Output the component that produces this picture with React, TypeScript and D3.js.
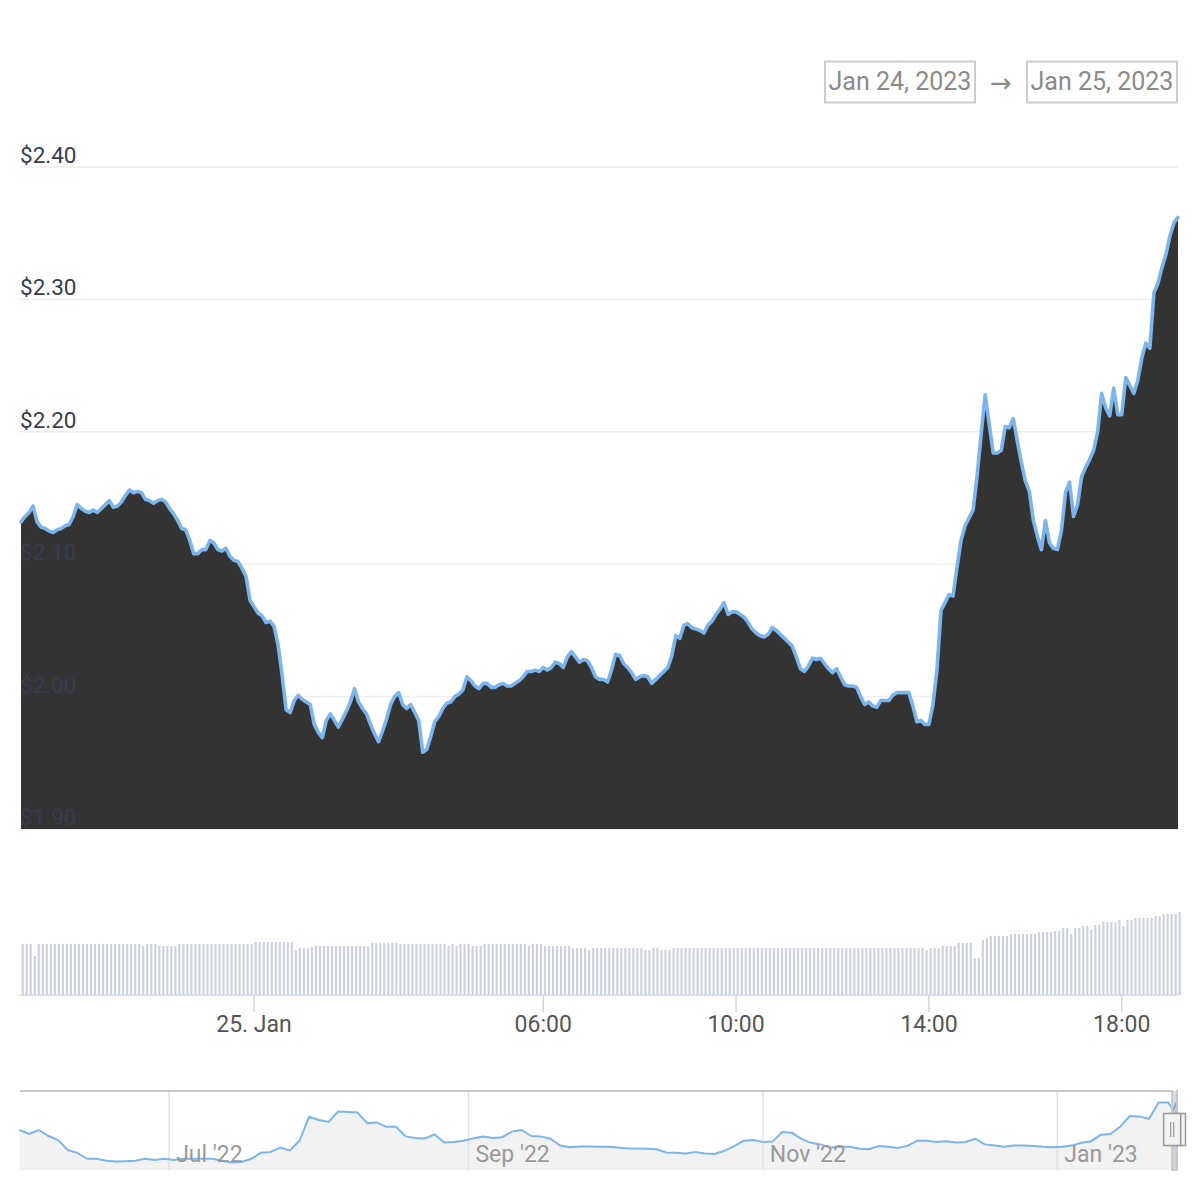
import * as d3 from "d3";

// 5-minute samples, Jan 24 19:10 UTC -> Jan 25 19:10 UTC
const startTime = Date.UTC(2023, 0, 24, 19, 10);
const stepMinutes = 5;

const prices = [
  2.132, 2.136, 2.139, 2.144, 2.132, 2.128, 2.127, 2.125, 2.124, 2.126,
  2.127, 2.129, 2.130, 2.136, 2.145, 2.142, 2.140, 2.139, 2.141, 2.139,
  2.142, 2.145, 2.148, 2.143, 2.144, 2.147, 2.152, 2.156, 2.154, 2.155,
  2.154, 2.149, 2.148, 2.146, 2.148, 2.149, 2.147, 2.142, 2.138, 2.133,
  2.127, 2.126, 2.118, 2.108, 2.108, 2.111, 2.111, 2.118, 2.116, 2.111,
  2.110, 2.112, 2.106, 2.103, 2.102, 2.097, 2.091, 2.073, 2.068, 2.063,
  2.061, 2.056, 2.057, 2.053, 2.039, 2.016, 1.990, 1.988, 1.997, 2.001,
  1.998, 1.996, 1.994, 1.979, 1.973, 1.969, 1.982, 1.987, 1.982, 1.977,
  1.983, 1.989, 1.996, 2.006, 1.996, 1.991, 1.987, 1.979, 1.972, 1.966,
  1.974, 1.983, 1.994, 2.000, 2.003, 1.994, 1.991, 1.994, 1.988, 1.982,
  1.958, 1.960, 1.970, 1.981, 1.985, 1.991, 1.995, 1.996, 2.000, 2.002,
  2.005, 2.015, 2.012, 2.008, 2.006, 2.010, 2.010, 2.007, 2.007, 2.009,
  2.010, 2.008, 2.008, 2.010, 2.012, 2.015, 2.019, 2.019, 2.020, 2.019,
  2.022, 2.020, 2.022, 2.026, 2.025, 2.022, 2.030, 2.034, 2.030, 2.026,
  2.028, 2.027, 2.022, 2.015, 2.013, 2.013, 2.011, 2.020, 2.032, 2.031,
  2.025, 2.022, 2.018, 2.013, 2.015, 2.016, 2.015, 2.010, 2.013, 2.016,
  2.019, 2.022, 2.031, 2.046, 2.044, 2.054, 2.055, 2.052, 2.051, 2.050,
  2.048, 2.054, 2.057, 2.062, 2.066, 2.071, 2.062, 2.064, 2.064, 2.062,
  2.060, 2.056, 2.051, 2.048, 2.046, 2.045, 2.047, 2.052, 2.050, 2.047,
  2.044, 2.041, 2.038, 2.030, 2.021, 2.019, 2.023, 2.029, 2.028, 2.029,
  2.025, 2.021, 2.018, 2.021, 2.015, 2.009, 2.008, 2.008, 2.007, 2.000,
  1.994, 1.996, 1.993, 1.992, 1.997, 1.997, 1.997, 2.001, 2.003, 2.003,
  2.003, 2.003, 1.993, 1.981, 1.982, 1.979, 1.979, 1.994, 2.020, 2.065,
  2.071, 2.077, 2.076, 2.098, 2.118, 2.129, 2.135, 2.141, 2.167, 2.198,
  2.228, 2.206, 2.184, 2.184, 2.186, 2.204, 2.203, 2.210, 2.193, 2.177,
  2.163, 2.155, 2.133, 2.121, 2.111, 2.133, 2.116, 2.112, 2.111, 2.126,
  2.154, 2.162, 2.136, 2.145, 2.166, 2.173, 2.179, 2.186, 2.200, 2.229,
  2.218, 2.212, 2.233, 2.213, 2.213, 2.241, 2.235, 2.229, 2.239, 2.256,
  2.267, 2.263, 2.305, 2.312, 2.324, 2.334, 2.348, 2.358, 2.362,
];

// 24h volume, billions
const volumes = [
  5.1, 5.1, 5.1, 3.9, 5.1, 5.1, 5.1, 5.1, 5.1, 5.1,
  5.1, 5.1, 5.1, 5.1, 5.1, 5.1, 5.1, 5.1, 5.1, 5.1,
  5.1, 5.1, 5.1, 5.1, 5.1, 5.1, 5.1, 5.1, 5.1, 5.1,
  4.9, 5.1, 5.1, 5.1, 4.9, 4.9, 4.9, 4.9, 4.9, 5.1,
  5.1, 5.1, 5.1, 5.1, 5.1, 5.1, 5.1, 5.1, 5.1, 5.1,
  5.1, 5.1, 5.1, 5.1, 5.1, 5.1, 5.1, 5.1, 5.3, 5.3,
  5.3, 5.3, 5.3, 5.3, 5.3, 5.3, 5.3, 5.3, 4.5, 4.7,
  4.7, 4.7, 4.8, 4.9, 4.9, 4.9, 4.9, 4.9, 4.9, 4.9,
  4.9, 4.9, 4.9, 4.9, 4.9, 4.9, 4.9, 5.2, 5.2, 5.2,
  5.2, 5.2, 5.2, 5.2, 5.1, 5.1, 5.1, 5.1, 5.1, 5.1,
  5.1, 5.1, 5.1, 5.1, 5.1, 5.1, 4.9, 5.1, 4.9, 5.1,
  5.1, 5.1, 4.9, 4.9, 4.9, 5.1, 5.1, 5.1, 5.1, 5.1,
  5.1, 5.1, 5.1, 5.1, 5.1, 5.1, 4.9, 5.1, 5.1, 5.1,
  4.9, 4.9, 4.9, 4.9, 4.9, 4.9, 4.9, 4.7, 4.7, 4.7,
  4.7, 4.5, 4.7, 4.7, 4.7, 4.7, 4.7, 4.7, 4.7, 4.7,
  4.7, 4.7, 4.7, 4.7, 4.7, 4.5, 4.5, 4.7, 4.7, 4.5,
  4.5, 4.5, 4.7, 4.7, 4.7, 4.7, 4.7, 4.7, 4.7, 4.7,
  4.7, 4.7, 4.7, 4.7, 4.7, 4.7, 4.7, 4.7, 4.7, 4.7,
  4.7, 4.7, 4.7, 4.7, 4.7, 4.7, 4.7, 4.7, 4.7, 4.7,
  4.7, 4.7, 4.7, 4.7, 4.7, 4.7, 4.7, 4.7, 4.7, 4.7,
  4.7, 4.7, 4.7, 4.7, 4.7, 4.7, 4.7, 4.7, 4.7, 4.7,
  4.7, 4.7, 4.7, 4.7, 4.7, 4.7, 4.7, 4.7, 4.7, 4.7,
  4.7, 4.7, 4.7, 4.7, 4.7, 4.5, 4.7, 4.7, 4.7, 4.9,
  4.9, 4.9, 4.9, 5.2, 5.2, 5.2, 5.2, 3.7, 3.7, 5.5,
  5.7, 5.9, 5.9, 5.9, 5.9, 5.9, 6.1, 6.1, 6.1, 6.1,
  6.1, 6.1, 6.1, 6.3, 6.3, 6.3, 6.3, 6.4, 6.4, 6.7,
  6.7, 6.1, 6.7, 6.7, 6.9, 6.9, 6.5, 7.0, 7.0, 7.3,
  7.3, 7.3, 7.3, 7.5, 6.9, 7.5, 7.5, 7.7, 7.7, 7.7,
  7.7, 7.7, 7.9, 7.9, 8.1, 8.1, 8.1, 8.1, 8.3,
];

const priceTicks = [1.9, 2.0, 2.1, 2.2, 2.3, 2.4];
const timeTicks = [
  Date.UTC(2023, 0, 25, 0, 0),
  Date.UTC(2023, 0, 25, 6, 0),
  Date.UTC(2023, 0, 25, 10, 0),
  Date.UTC(2023, 0, 25, 14, 0),
  Date.UTC(2023, 0, 25, 18, 0),
];
const timeTickLabels = ["25. Jan", "06:00", "10:00", "14:00", "18:00"];

// navigator: every 2 days from May 31 2022, then the last two points
const navStart = Date.UTC(2022, 4, 31);
const navStepDays = 2;
const navValues = [
  1.66, 1.56, 1.66, 1.51, 1.41, 1.16, 1.09, 0.94, 0.94, 0.89,
  0.87, 0.88, 0.89, 0.94, 0.91, 0.94, 0.91, 0.94, 0.94, 0.94,
  0.94, 0.89, 0.85, 0.86, 0.94, 1.09, 1.11, 1.22, 1.15, 1.39,
  1.99, 1.91, 1.86, 2.12, 2.11, 2.10, 1.83, 1.85, 1.74, 1.74,
  1.50, 1.46, 1.45, 1.55, 1.35, 1.36, 1.39, 1.45, 1.50, 1.46,
  1.48, 1.62, 1.66, 1.51, 1.50, 1.44, 1.27, 1.23, 1.25, 1.25,
  1.24, 1.24, 1.22, 1.20, 1.20, 1.19, 1.18, 1.10, 1.09, 1.07,
  1.11, 1.07, 1.06, 1.14, 1.25, 1.39, 1.41, 1.36, 1.37, 1.61,
  1.59, 1.44, 1.34, 1.30, 1.22, 1.24, 1.24, 1.19, 1.18, 1.26,
  1.24, 1.21, 1.27, 1.39, 1.39, 1.36, 1.38, 1.35, 1.36, 1.44,
  1.30, 1.27, 1.24, 1.27, 1.27, 1.26, 1.24, 1.23, 1.24, 1.27,
  1.34, 1.38, 1.54, 1.56, 1.74, 2.01, 2.00, 1.94, 2.35, 2.35,
];
const navTailTimes = [Date.UTC(2023, 0, 25, 0, 0), Date.UTC(2023, 0, 25, 19, 10)];
const navTailValues = [2.16, 2.36];
const navExtent = [0.66, 2.635];
const navTicks = [
  Date.UTC(2022, 6, 1),
  Date.UTC(2022, 8, 1),
  Date.UTC(2022, 10, 1),
  Date.UTC(2023, 0, 1),
];
const navTickLabels = ["Jul '22", "Sep '22", "Nov '22", "Jan '23"];

const rangeFrom = "Jan 24, 2023";
const rangeTo = "Jan 25, 2023";

const font = "Roboto, sans-serif";

const App = () => {
  const times = prices.map((_, i) => new Date(startTime + i * stepMinutes * 60000));
  const endTime = times[times.length - 1];

  const x = d3.scaleUtc().domain([times[0], endTime]).range([21, 1178]);
  const y = d3.scaleLinear().domain([1.9, 2.4]).range([829, 167]);
  const yVol = d3.scaleLinear().domain([0, 10]).range([995, 895]);

  const area = d3
    .area<number>()
    .x((_, i) => x(times[i]))
    .y0(y(1.9))
    .y1((d) => y(d));
  const line = d3
    .line<number>()
    .x((_, i) => x(times[i]))
    .y((d) => y(d));

  const navTimes = navValues
    .map((_, i) => new Date(navStart + i * navStepDays * 86400000))
    .concat(navTailTimes.map((t) => new Date(t)));
  const navAll = navValues.concat(navTailValues);
  const xNav = d3.scaleUtc().domain([new Date(navStart), endTime]).range([19.5, 1177]);
  const yNav = d3.scaleLinear().domain(navExtent).range([1170, 1091]);
  const navArea = d3
    .area<number>()
    .x((_, i) => xNav(navTimes[i]))
    .y0(1170)
    .y1((d) => yNav(d));
  const navLine = d3
    .line<number>()
    .x((_, i) => xNav(navTimes[i]))
    .y((d) => yNav(d));

  const selFrom = xNav(times[0]);
  const selTo = xNav(endTime);

  const handle = (cx: number, key: string) => (
    <g key={key}>
      <rect x={cx - 8.5} y={1113.5} width={17} height={32} fill="#f2f2f2" stroke="#999" strokeWidth={1.5} />
      <line x1={cx - 1.5} x2={cx - 1.5} y1={1122} y2={1137} stroke="#999" strokeWidth={1.2} />
      <line x1={cx + 1.5} x2={cx + 1.5} y1={1122} y2={1137} stroke="#999" strokeWidth={1.2} />
    </g>
  );

  return (
    <svg
      width={1200}
      height={1200}
      style={{ position: "absolute", left: 0, top: 0, background: "#fff" }}
      fontFamily={font}
    >
      {/* range inputs */}
      <rect x={825} y={61.5} width={150} height={41} fill="#fff" stroke="#cccccc" strokeWidth={2} />
      <text x={900} y={90} textAnchor="middle" fontSize={25} fill="#8a8a8a">
        {rangeFrom}
      </text>
      <text x={1001} y={92} textAnchor="middle" fontSize={26} fontFamily="DejaVu Sans" fill="#8a8a8a">
        →
      </text>
      <rect x={1027} y={61.5} width={150} height={41} fill="#fff" stroke="#cccccc" strokeWidth={2} />
      <text x={1102} y={90} textAnchor="middle" fontSize={25} fill="#8a8a8a">
        {rangeTo}
      </text>

      {/* price grid */}
      {priceTicks.map((t) => (
        <line key={t} x1={20} x2={1178} y1={y(t)} y2={y(t)} stroke="#eeeeee" strokeWidth={1.5} />
      ))}

      <path d={area(prices) ?? ""} fill="#333333" />
      <path
        d={line(prices) ?? ""}
        fill="none"
        stroke="#7cb5ec"
        strokeWidth={3.6}
        strokeLinejoin="round"
        strokeLinecap="round"
      />

      {priceTicks.map((t) => (
        <text key={t} x={20} y={y(t) - 4} fontSize={22.5} fill="#343d4e">
          {"$" + t.toFixed(2)}
        </text>
      ))}

      {/* volume */}
      {volumes.map((v, i) => (
        <rect key={i} x={x(times[i]) + 0.6} y={yVol(v)} width={2.2} height={995 - yVol(v)} fill="#cdd2dc" />
      ))}
      <line x1={20} x2={1178} y1={995} y2={995} stroke="#ccd6eb" strokeWidth={1.5} />
      {timeTicks.map((t, i) => (
        <g key={t}>
          <line x1={x(new Date(t))} x2={x(new Date(t))} y1={995} y2={1012} stroke="#ccd6eb" strokeWidth={1.5} />
          <text x={x(new Date(t))} y={1032} textAnchor="middle" fontSize={23} fill="#555555">
            {timeTickLabels[i]}
          </text>
        </g>
      ))}

      {/* navigator */}
      <path d={navArea(navAll) ?? ""} fill="#f2f2f2" />
      {navTicks.map((t) => (
        <line key={t} x1={xNav(new Date(t))} x2={xNav(new Date(t))} y1={1091} y2={1170} stroke="#e2e2e2" strokeWidth={1.5} />
      ))}
      <path d={navLine(navAll) ?? ""} fill="none" stroke="#7cb5ec" strokeWidth={2} />
      {navTicks.map((t, i) => (
        <text key={t} x={xNav(new Date(t)) + 7} y={1162} fontSize={23} fill="#999999">
          {navTickLabels[i]}
        </text>
      ))}
      <rect x={selFrom} y={1091} width={selTo - selFrom} height={79} fill="rgba(102,133,194,0.3)" />
      <path
        d={`M20,1091 L${selFrom},1091 L${selFrom},1170 L${selTo},1170 L${selTo},1091 L1178,1091`}
        fill="none"
        stroke="#c8c8c8"
        strokeWidth={2}
      />
      {handle(selTo, "r")}
      {handle(selFrom, "l")}
    </svg>
  );
};

export default App;
